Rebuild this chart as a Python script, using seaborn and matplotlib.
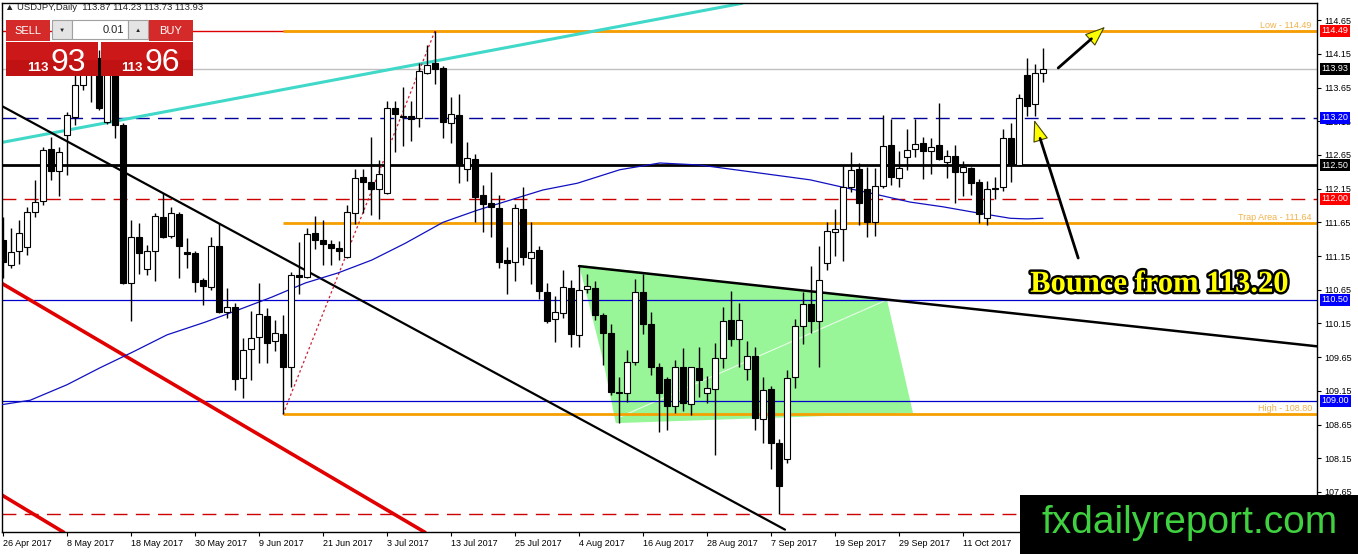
import numpy as np
import pandas as pd
import seaborn as sns
import matplotlib.pyplot as plt
from matplotlib.patches import Polygon, Rectangle
import matplotlib.patheffects as pe

sns.set_theme(style="white")
plt.rcParams['font.family'] = ['Liberation Sans', 'DejaVu Sans']

# ---- data: USDJPY daily candles ----
dates = pd.bdate_range("2017-04-26", periods=131)

opens = [111.39, 111.02, 111.22, 111.28, 111.80, 111.97, 112.74, 112.41, 112.95, 113.21,
         113.69, 113.98, 114.09, 113.14, 113.88, 113.09, 110.75, 111.43, 110.96, 111.22,
         111.73, 111.45, 111.77, 111.21, 111.19, 110.79, 110.69, 111.30, 110.32, 110.39,
         109.34, 109.77, 109.95, 110.26, 109.89, 110.00, 109.50, 110.87, 110.84, 111.49,
         111.39, 111.33, 111.27, 111.13, 111.79, 112.32, 112.25, 112.14, 112.08, 113.35,
         113.21, 113.23, 113.20, 113.86, 114.01, 113.94, 113.12, 113.24, 112.44, 112.59,
         112.06, 111.94, 111.86, 111.09, 111.06, 111.85, 111.12, 111.24, 110.62, 110.22,
         110.31, 110.68, 109.98, 110.66, 110.68, 110.27, 110.01, 109.12, 109.12, 109.57,
         110.62, 110.14, 109.50, 109.33, 108.92, 109.50, 108.95, 109.49, 109.12, 109.18,
         109.64, 110.20, 109.92, 109.47, 109.67, 108.73, 109.18, 108.38, 108.14, 109.35,
         110.11, 110.44, 110.19, 111.05, 111.51, 111.55, 112.17, 112.44, 112.14, 111.65,
         112.19, 112.80, 112.31, 112.62, 112.74, 112.83, 112.71, 112.80, 112.54, 112.63,
         112.40, 112.46, 112.25, 111.71, 112.16, 112.17, 112.90, 112.50, 113.84, 113.41,
         113.87]
highs = [111.73, 111.57, 111.68, 111.87, 112.28, 112.77, 112.92, 112.77, 113.29, 113.84,
         114.13, 114.33, 114.21, 114.03, 114.03, 113.12, 111.68, 111.64, 111.31, 111.79,
         112.08, 111.88, 111.80, 111.42, 111.22, 110.82, 111.43, 111.64, 110.67, 110.45,
         109.93, 110.33, 110.75, 110.38, 110.20, 110.27, 110.91, 111.36, 111.57, 111.74,
         111.68, 111.39, 111.37, 111.91, 112.44, 112.44, 112.92, 112.57, 113.45, 113.45,
         113.66, 113.45, 114.01, 114.28, 114.49, 113.97, 113.51, 113.55, 112.84, 112.66,
         112.20, 112.40, 112.06, 111.28, 111.92, 112.17, 111.65, 111.30, 110.75, 110.56,
         110.94, 110.79, 111.00, 110.88, 110.78, 110.30, 110.14, 109.36, 109.76, 110.81,
         110.88, 110.32, 109.56, 109.36, 109.61, 109.78, 109.51, 109.80, 109.37, 109.86,
         110.39, 110.63, 110.45, 109.89, 109.80, 109.36, 109.22, 108.44, 109.46, 110.22,
         110.62, 111.00, 111.30, 111.65, 111.85, 112.49, 112.69, 112.53, 112.47, 112.46,
         113.24, 113.18, 112.71, 113.03, 113.18, 112.92, 112.90, 113.42, 112.72, 112.80,
         112.56, 112.47, 112.29, 112.26, 112.32, 113.03, 113.12, 113.55, 114.09, 114.00,
         114.23]
lows = [110.82, 110.97, 111.03, 111.16, 111.73, 111.91, 112.28, 112.04, 112.35, 113.09,
        113.61, 113.44, 113.32, 113.11, 112.90, 110.74, 110.18, 110.89, 110.87, 110.78,
        111.42, 111.42, 110.82, 110.97, 110.62, 110.43, 110.65, 110.30, 110.23, 109.16,
        109.04, 109.31, 109.56, 109.56, 109.74, 108.80, 109.21, 110.59, 110.83, 111.25,
        111.02, 111.02, 111.09, 111.12, 111.62, 111.79, 111.76, 111.70, 112.07, 112.69,
        112.78, 112.86, 113.06, 113.85, 113.70, 112.90, 112.83, 112.23, 112.26, 111.65,
        111.51, 111.43, 110.97, 110.59, 110.78, 111.02, 110.73, 110.51, 110.16, 109.87,
        110.23, 109.80, 109.80, 110.60, 110.20, 109.53, 109.09, 108.67, 108.98, 109.53,
        109.99, 109.38, 108.54, 108.57, 108.82, 108.85, 108.79, 109.06, 108.97, 108.20,
        109.49, 109.81, 109.50, 109.31, 108.57, 108.38, 107.99, 107.32, 108.08, 109.19,
        109.84, 110.01, 109.50, 110.94, 111.15, 111.08, 112.10, 111.61, 111.43, 111.45,
        112.16, 112.20, 112.17, 112.43, 112.62, 112.29, 112.37, 112.57, 112.31, 111.94,
        112.04, 112.06, 111.64, 111.61, 111.99, 112.11, 112.25, 112.49, 113.23, 113.23,
        113.73]
closes = [111.06, 111.21, 111.49, 111.80, 111.95, 112.72, 112.41, 112.69, 113.24, 113.69,
          113.91, 114.09, 113.35, 113.91, 113.09, 110.75, 111.43, 111.19, 111.22, 111.74,
          111.43, 111.79, 111.30, 111.18, 110.77, 110.70, 111.30, 110.32, 110.39, 109.33,
          109.76, 109.93, 110.29, 109.86, 110.01, 109.50, 110.87, 110.84, 111.48, 111.39,
          111.33, 111.27, 111.22, 111.80, 112.31, 112.25, 112.14, 112.37, 113.35, 113.26,
          113.23, 113.18, 113.90, 113.98, 113.92, 113.14, 113.26, 112.50, 112.60, 112.03,
          111.92, 111.88, 111.06, 111.05, 111.86, 111.13, 111.21, 110.63, 110.19, 110.32,
          110.69, 109.99, 110.65, 110.71, 110.27, 110.01, 109.13, 109.13, 109.58, 110.62,
          110.14, 109.50, 109.12, 108.92, 109.50, 108.97, 109.50, 109.31, 109.19, 109.64,
          110.19, 109.92, 110.20, 109.67, 108.75, 109.16, 108.38, 107.74, 109.34, 110.11,
          110.44, 110.19, 110.79, 111.52, 111.55, 112.17, 112.43, 111.94, 111.65, 112.19,
          112.78, 112.32, 112.46, 112.72, 112.81, 112.71, 112.77, 112.59, 112.63, 112.40,
          112.47, 112.23, 111.77, 112.14, 112.15, 112.90, 112.50, 113.49, 113.38, 113.87,
          113.93]

# moving average line (bar position, price)
ma_bar = [-0.4, 3.4, 8.0, 12.1, 16.3, 20.5, 25.3, 29.4, 33.6, 37.8, 41.9, 46.1, 50.3, 55.0,
          59.3, 63.4, 67.5, 71.8, 77.1, 82.1, 87.1, 93.4, 100.9, 105.0, 109.3, 113.4, 117.5,
          121.8, 125.9, 128.0, 130.0]
ma_val = [108.94, 109.01, 109.24, 109.49, 109.73, 109.98, 110.17, 110.35, 110.54, 110.75,
          110.90, 111.09, 111.34, 111.65, 111.83, 111.98, 112.13, 112.23, 112.43, 112.53,
          112.50, 112.40, 112.28, 112.17, 112.06, 111.95, 111.88, 111.79, 111.71, 111.70, 111.71]

# trend lines: (bar, price) end points
cyan_line = ([-0.375, 92.4], [112.83, 114.90])
black_line1 = ([-0.375, 97.75], [113.39, 107.09])
black_line2 = ([72.0, 164.25], [111.00, 109.81])
red_line1 = ([-0.375, 52.75], [110.76, 107.05])
red_line2 = ([-0.375, 7.6], [107.62, 107.05])
red_dotted = ([35, 54], [108.80, 114.49])

# green area
green_bar = [72.0, 75.0, 76.6, 113.75, 110.5]
green_val = [111.02, 109.61, 108.67, 108.82, 110.50]
green_inner = ([77.1, 110.5], [108.76, 110.50])

# horizontal levels
lvl_low, lvl_trap, lvl_high = 114.49, 111.64, 108.80
lvl_bid = 113.93
lvl_113_20, lvl_112_50, lvl_112_00 = 113.20, 112.50, 112.00
lvl_110_50, lvl_109_00, lvl_107_32 = 110.50, 109.00, 107.32

y_ticks = [107.65, 108.15, 108.65, 109.15, 109.65, 110.15, 110.65, 111.15, 111.65,
           112.15, 112.65, 113.15, 113.65, 114.15, 114.65]
tick_labels = ["26 Apr 2017", "8 May 2017", "18 May 2017", "30 May 2017", "9 Jun 2017",
               "21 Jun 2017", "3 Jul 2017", "13 Jul 2017", "25 Jul 2017", "4 Aug 2017",
               "16 Aug 2017", "28 Aug 2017", "7 Sep 2017", "19 Sep 2017", "29 Sep 2017",
               "11 Oct 2017"]

price_boxes = [("114.49", 114.49, "#ff0000"), ("113.93", 113.93, "black"),
               ("113.20", 113.20, "#0000ff"), ("112.50", 112.50, "black"),
               ("112.00", 112.00, "#ff0000"), ("110.50", 110.50, "#0000ff"),
               ("109.00", 109.00, "#0000ff")]

df = pd.DataFrame({"date": dates, "open": opens, "high": highs, "low": lows, "close": closes})
df["bar"] = np.arange(len(df))

# ---- figure ----
W, H = 1358, 554
fig = plt.figure(figsize=(W / 100, H / 100), dpi=100)
ax = fig.add_axes([2 / W, 22 / H, 1315 / W, 529 / H])
ax.set_xlim(-0.125, 164.25)
ax.set_ylim(107.055, 114.904)

orange = "#f5a000"
orange_txt = "#f0b24a"

ax.add_patch(Polygon(list(zip(green_bar, green_val)), closed=True, fc="#98f598", ec="none", zorder=1))
ax.plot(*green_inner, color="white", lw=0.8, alpha=0.8, zorder=1.5)

# horizontal levels
ax.axhline(lvl_low, color="#dd0000", lw=1, zorder=2)
ax.axhline(lvl_bid, color="#c0c0c0", lw=1, zorder=2)
ax.axhline(lvl_113_20, color="#000099", lw=1, ls=(0, (10, 6)), zorder=2)
ax.axhline(lvl_112_50, color="black", lw=2, zorder=2)
ax.axhline(lvl_112_00, color="#cc0000", lw=1, ls=(0, (10, 6)), zorder=2)
ax.axhline(lvl_110_50, color="#0000cc", lw=0.9, zorder=2)
ax.axhline(lvl_109_00, color="#0000cc", lw=0.9, zorder=2)
ax.axhline(lvl_107_32, color="#cc0000", lw=1, ls=(0, (10, 6)), zorder=2)
for v in (lvl_low, lvl_trap, lvl_high):
    ax.hlines(v, 35, 164.25, color=orange, lw=2, zorder=2.2)
for txt, v in (("Low - 114.49", lvl_low), ("Trap Area - 111.64", lvl_trap), ("High - 108.80", lvl_high)):
    ax.text(163.6, v + 0.02, txt, color=orange_txt, fontsize=6.5, ha="right", va="bottom", zorder=3)

# trend lines
ax.plot(*cyan_line, color="#40d8c8", lw=2.2, zorder=2.5)
ax.plot(*black_line1, color="black", lw=1.6, zorder=2.5)
ax.plot(*black_line2, color="black", lw=1.8, zorder=2.5)
ax.plot(*red_line1, color="#e00000", lw=2.6, zorder=2.5)
ax.plot(*red_line2, color="#e00000", lw=2.6, zorder=2.5)
ax.plot(*red_dotted, color="#cc2233", lw=0.9, ls=(0, (2, 2)), zorder=2.5)

sns.lineplot(x=ma_bar, y=ma_val, ax=ax, color="#1010c0", lw=0.9, zorder=2.6)

# candles
up = df["close"] >= df["open"]
ax.vlines(df["bar"], df["low"], df["high"], color="black", lw=1, zorder=4)
body_lo = df[["open", "close"]].min(axis=1)
body_h = (df["close"] - df["open"]).abs().clip(lower=0.015)
ax.bar(df["bar"], body_h, bottom=body_lo, width=0.64,
       color=np.where(up, "white", "black"), edgecolor="black", linewidth=0.8, zorder=5)

# axes styling
for s in ax.spines.values():
    s.set_color("black")
    s.set_linewidth(1)
ax.yaxis.tick_right()
ax.set_yticks(y_ticks)
ax.set_yticklabels([f"{v:.2f}" for v in y_ticks])
tick_pos = dates.get_indexer(pd.to_datetime(tick_labels, format="%d %b %Y"))
ax.set_xticks(tick_pos)
ax.set_xticklabels(tick_labels, ha="left")
ax.tick_params(axis="both", labelsize=6.5, colors="black", length=3, width=0.8, direction="out", pad=2)
ax.tick_params(axis="x", bottom=True)
ax.tick_params(axis="y", right=True, left=False, labelright=True, labelleft=False)
ax.set_xlabel("")
ax.set_ylabel("")

for txt, v, c in price_boxes:
    ax.text(1.0035, v, txt, transform=ax.get_yaxis_transform(), fontsize=6.5, color="white",
            va="center", ha="left", zorder=6, clip_on=False,
            bbox=dict(boxstyle="square,pad=0.18", fc=c, ec="none"))

# annotations
ax.annotate("", xy=(128.9, 113.17), xytext=(134.4, 111.12),
            arrowprops=dict(arrowstyle="-|>,head_length=1.4,head_width=0.5", mutation_scale=10,
                            fc="#ffff00", ec="#444400", lw=0.8, shrinkA=0, shrinkB=0), zorder=7)
ax.annotate("", xy=(128.9, 113.17), xytext=(134.4, 111.12),
            arrowprops=dict(arrowstyle="-", color="black", lw=2, shrinkA=0, shrinkB=14), zorder=7)
ax.annotate("", xy=(137.75, 114.55), xytext=(131.9, 113.94),
            arrowprops=dict(arrowstyle="-|>,head_length=1.3,head_width=0.5", mutation_scale=10,
                            fc="#ffff00", ec="#444400", lw=0.8, shrinkA=0, shrinkB=0), zorder=7)
ax.annotate("", xy=(137.75, 114.55), xytext=(131.9, 113.94),
            arrowprops=dict(arrowstyle="-", color="black", lw=2, shrinkA=0, shrinkB=13), zorder=7)
ax.text(128.4, 110.73, "Bounce from 113.20", family=["Liberation Serif", "DejaVu Serif"],
        fontweight="bold", fontsize=22, color="#ffff00", ha="left", va="center", zorder=8,
        path_effects=[pe.withStroke(linewidth=3.5, foreground="black")])

# ---- overlay: terminal panel, header and logo (pixel coordinates) ----
ov = fig.add_axes([0, 0, 1, 1], zorder=20)
ov.set_xlim(0, W)
ov.set_ylim(H, 0)
ov.axis("off")
ov.patch.set_alpha(0)

ov.text(5, 8, "\u25b2 USDJPY,Daily  113.87 114.23 113.73 113.93", fontsize=6.8, va="center", ha="left")

red_btn = "#d42a2a"
ov.add_patch(Rectangle((6, 20), 44, 21, fc=red_btn, ec="none"))
ov.text(28, 31, "SELL", color="white", fontsize=8, ha="center", va="center")
ov.add_patch(Rectangle((52, 20), 20, 19, fc="#e4e4e4", ec="#a0a0a0", lw=0.8))
ov.text(62, 30, "\u25bc", fontsize=4.5, ha="center", va="center")
ov.add_patch(Rectangle((72, 20), 56, 19, fc="white", ec="#a0a0a0", lw=0.8))
ov.text(124, 30, "0.01", fontsize=8, ha="right", va="center")
ov.add_patch(Rectangle((128, 20), 20, 19, fc="#e4e4e4", ec="#a0a0a0", lw=0.8))
ov.text(138, 30, "\u25b2", fontsize=4.5, ha="center", va="center")
ov.add_patch(Rectangle((149, 20), 44, 21, fc=red_btn, ec="none"))
ov.text(171, 31, "BUY", color="white", fontsize=8, ha="center", va="center")

for x0, small_x, big_x, big in ((6, 49, 51, "93"), (101, 143, 145, "96")):
    ov.add_patch(Rectangle((x0, 42), 92, 34, fc="#cc1818", ec="none"))
    ov.add_patch(Rectangle((x0, 60), 92, 16, fc="#b80f0f", ec="none", alpha=0.6))
    ov.text(small_x, 71, "113", color="white", fontsize=9.5, fontweight="bold", ha="right", va="baseline")
    ov.text(big_x, 71, big, color="white", fontsize=23, ha="left", va="baseline")

ov.add_patch(Rectangle((1020, 495), 338, 59, fc="black", ec="none"))
ov.text(1190, 523, "fxdailyreport.com", color="#3fd13f", fontsize=28, ha="center", va="center")

fig.savefig("out.png", dpi=100)
